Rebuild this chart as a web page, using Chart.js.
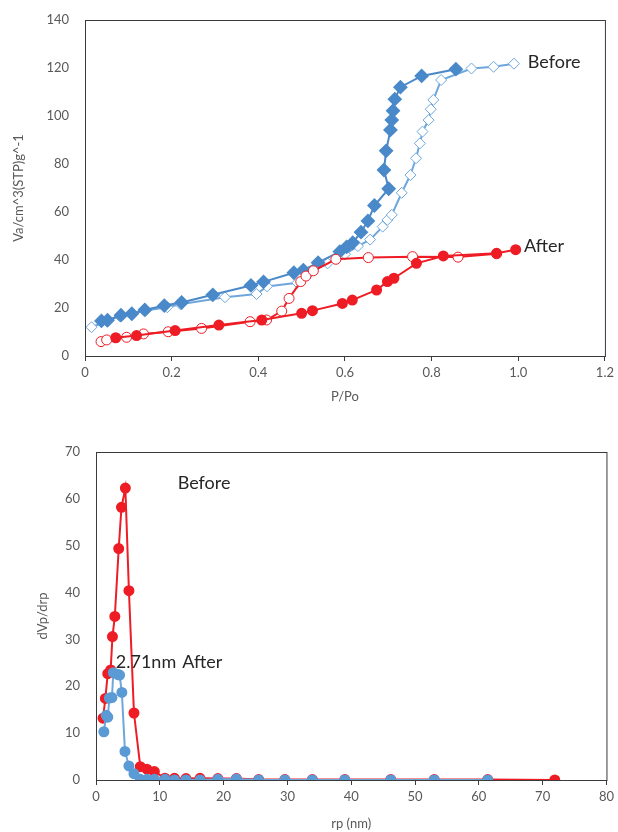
<!DOCTYPE html>
<html>
<head>
<meta charset="utf-8">
<script src="https://cdn.jsdelivr.net/npm/chart.js@4.4.1/dist/chart.umd.min.js"></script>
<style>
  body { margin: 0; background: #fff; }
  canvas { display: block; }
</style>
</head>
<body>
<canvas id="isotermas" width="618" height="416"></canvas>
<canvas id="poros" width="618" height="416"></canvas>
<script>
// isotermas - Before (azul)
const antesDesP = [0.038, 0.052, 0.083, 0.108, 0.138, 0.183, 0.223, 0.295, 0.383, 0.412, 0.482, 0.504, 0.538, 0.588, 0.604, 0.618, 0.637, 0.653, 0.668, 0.701, 0.69, 0.695, 0.705, 0.708, 0.711, 0.715, 0.728, 0.777, 0.856]
const antesDesV = [14.6, 14.9, 17.0, 17.6, 19.2, 21.0, 22.3, 25.5, 29.4, 30.9, 34.7, 35.8, 38.9, 43.5, 45.5, 47.2, 51.6, 56.3, 62.7, 69.7, 77.5, 85.5, 94.2, 98.3, 102.2, 107.0, 112.0, 116.7, 119.5]
const antesAdsP = [0.015, 0.05, 0.08, 0.11, 0.14, 0.19, 0.22, 0.323, 0.396, 0.42, 0.49, 0.52, 0.56, 0.6, 0.63, 0.658, 0.687, 0.698, 0.708, 0.731, 0.751, 0.764, 0.773, 0.779, 0.793, 0.798, 0.804, 0.822, 0.892, 0.943, 0.99]
const antesAdsV = [12.0, 14.5, 16.6, 17.5, 19.0, 20.3, 21.6, 24.5, 25.8, 29.0, 30.5, 35.0, 38.6, 42.4, 45.8, 48.5, 53.9, 56.7, 58.8, 68.0, 75.4, 82.4, 88.6, 93.5, 98.3, 102.8, 106.7, 115.0, 119.8, 120.5, 121.8]

// isotermas - After (vermelho)
const depoisDesP = [0.071, 0.119, 0.208, 0.309, 0.408, 0.5, 0.525, 0.594, 0.617, 0.673, 0.698, 0.713, 0.765, 0.827, 0.95, 0.994]
const depoisDesV = [7.6, 8.5, 10.6, 12.9, 15.0, 17.8, 18.9, 21.9, 23.3, 27.5, 31.0, 32.4, 38.6, 41.7, 42.8, 44.3]
const depoisAdsP = [0.037, 0.05, 0.096, 0.135, 0.192, 0.269, 0.381, 0.419, 0.454, 0.471, 0.498, 0.51, 0.527, 0.579, 0.654, 0.756, 0.861, 0.95]
const depoisAdsV = [6.0, 6.7, 7.8, 9.2, 10.1, 11.5, 14.3, 15.0, 18.7, 24.0, 31.0, 33.3, 35.5, 40.3, 41.0, 41.4, 41.2, 42.6]

// distribuicao de poros
const antesRp = [1.1, 1.47, 1.84, 2.3, 2.58, 2.95, 3.56, 3.99, 4.6, 5.16, 5.95, 6.94, 7.98, 9.15, 10.8, 12.3, 14.1, 16.3, 19.1, 22.0, 25.5, 29.6, 33.9, 39.0, 46.2, 53.0, 61.4, 71.9]
const antesDv = [13.2, 17.4, 22.7, 23.5, 30.6, 34.9, 49.4, 58.2, 62.3, 40.4, 14.3, 2.85, 2.3, 1.8, 0.4, 0.35, 0.3, 0.35, 0.3, 0.3, 0.1, 0.1, 0.1, 0.1, 0.1, 0.1, 0.1, 0.0]
const depoisRp = [1.23, 1.6, 1.85, 2.1, 2.5, 2.71, 3.44, 3.7, 4.05, 4.54, 5.16, 5.95, 6.94, 7.98, 9.15, 10.8, 12.3, 14.1, 16.3, 19.1, 22.0, 25.5, 29.6, 33.9, 39.0, 46.2, 53.0, 61.4]
const depoisDv = [10.3, 13.8, 13.4, 17.5, 17.6, 22.9, 22.5, 22.4, 18.7, 6.1, 3.0, 1.35, 0.15, 0.15, 0.15, 0.15, 0.0, 0.0, 0.0, 0.15, 0.2, 0.0, 0.0, 0.0, 0.0, 0.0, 0.0, 0.0]

const textosIsotermas = [
    { txt: 'Before', x: 1.022, y: 122.6 },
    { txt: 'After', x: 1.013, y: 45.8 }
]
const textosPoros = [
    { txt: 'Before', x: 12.8, y: 63.4 },
    { txt: '2.71nm', x: 3.1, y: 25.2 },
    { txt: 'After', x: 13.5, y: 25.2 }
]

const AZUL = '#4a89c9'
const AZUL_CLARO = '#6ea7dc'
const AZUL_PONTO = '#5b9bd5'
const VERMELHO = '#ee1c25'
const CINZA = '#595959'
const FONTE = "Lato, 'Open Sans', sans-serif"

function pontos(xs, ys) {
    return xs.map((x, i) => ({ x: x, y: ys[i] }))
}

// moldura + textos
const extras = {
    id: 'extras',
    afterDraw(chart, args, opts) {
        const ctx = chart.ctx
        const a = chart.chartArea
        ctx.save()
        ctx.strokeStyle = '#3a3a3a'
        ctx.lineWidth = 1
        ctx.strokeRect(a.left + 0.5, a.top + 0.5, a.right - a.left, a.bottom - a.top)
        ctx.fillStyle = '#262626'
        ctx.font = '18px ' + FONTE
        ctx.textBaseline = 'middle'
        ctx.textAlign = 'left'
        ;(opts.textos || []).forEach(t => {
            ctx.fillText(t.txt, chart.scales.x.getPixelForValue(t.x), chart.scales.y.getPixelForValue(t.y))
        })
        ctx.restore()
    }
}

function eixos(xMax, xStep, yMax, yStep, titX, titY, esq, alt, padTitY, padTitX) {
    return {
        x: {
            type: 'linear', min: 0, max: xMax,
            ticks: { stepSize: xStep, color: CINZA, font: { size: 13, family: FONTE }, padding: 4 },
            grid: { drawOnChartArea: false, drawTicks: true, tickLength: 5, color: '#3a3a3a' },
            border: { color: '#3a3a3a' },
            title: { display: true, text: titX, color: CINZA, font: { size: 13, family: FONTE }, padding: { top: 4, bottom: padTitX } },
            afterFit: s => { s.height = alt }
        },
        y: {
            min: 0, max: yMax,
            ticks: { stepSize: yStep, color: CINZA, font: { size: 13, family: FONTE }, padding: 8 },
            grid: { display: false },
            border: { color: '#3a3a3a' },
            title: { display: true, text: titY, color: CINZA, font: { size: 13, family: FONTE }, padding: { top: padTitY, bottom: 4 } },
            afterFit: s => { s.width = esq }
        }
    }
}

new Chart(document.getElementById('isotermas'), {
    type: 'scatter',
    data: {
        datasets: [
            {
                data: pontos(depoisDesP, depoisDesV), showLine: true, borderColor: VERMELHO, borderWidth: 2,
                pointStyle: 'circle', pointRadius: 4.5, pointBorderColor: VERMELHO, pointBackgroundColor: VERMELHO
            },
            {
                data: pontos(depoisAdsP, depoisAdsV), showLine: true, borderColor: VERMELHO, borderWidth: 2,
                pointStyle: 'circle', pointRadius: 5, pointBorderColor: VERMELHO, pointBackgroundColor: '#ffffff', pointBorderWidth: 1
            },
            {
                data: pontos(antesDesP, antesDesV), showLine: true, borderColor: AZUL, borderWidth: 2,
                pointStyle: 'rectRot', pointRadius: 6, pointBorderColor: AZUL, pointBackgroundColor: AZUL
            },
            {
                data: pontos(antesAdsP, antesAdsV), showLine: true, borderColor: AZUL_CLARO, borderWidth: 2,
                pointStyle: 'rectRot', pointRadius: 5.5, pointBorderColor: AZUL_CLARO, pointBackgroundColor: '#ffffff', pointBorderWidth: 1
            }
        ]
    },
    options: {
        responsive: false,
        animation: false,
        layout: { padding: { top: 20, right: 13, left: 0, bottom: 0 } },
        scales: eixos(1.2, 0.2, 140, 20, 'P/Po', 'Va/cm^3(STP)g^-1', 85, 60, 11, 11),
        plugins: { legend: { display: false }, tooltip: { enabled: false }, extras: { textos: textosIsotermas } }
    },
    plugins: [extras]
})

new Chart(document.getElementById('poros'), {
    type: 'scatter',
    data: {
        datasets: [
            {
                data: pontos(depoisRp, depoisDv), showLine: true, borderColor: AZUL_CLARO, borderWidth: 2,
                pointStyle: 'circle', pointRadius: 4.5, pointBorderColor: AZUL_PONTO, pointBackgroundColor: AZUL_PONTO
            },
            {
                data: pontos(antesRp, antesDv), showLine: true, borderColor: VERMELHO, borderWidth: 2,
                pointStyle: 'circle', pointRadius: 4.5, pointBorderColor: VERMELHO, pointBackgroundColor: VERMELHO
            }
        ]
    },
    options: {
        responsive: false,
        animation: false,
        layout: { padding: { top: 36, right: 11, left: 0, bottom: 0 } },
        scales: eixos(80, 10, 70, 10, 'rp (nm)', 'dVp/drp', 96, 52, 35, 0),
        plugins: { legend: { display: false }, tooltip: { enabled: false }, extras: { textos: textosPoros } }
    },
    plugins: [extras]
})
</script>
</body>
</html>
